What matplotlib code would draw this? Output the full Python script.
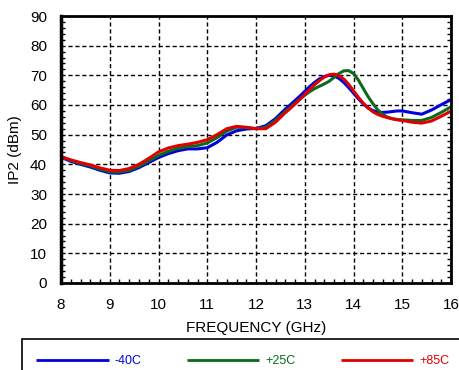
import numpy as np
import matplotlib
matplotlib.use("Agg")
import matplotlib.pyplot as plt
from matplotlib.patches import Rectangle
from matplotlib.ticker import MultipleLocator

plt.rcParams['font.family'] = ['Liberation Sans', 'DejaVu Sans']

# frequency points (GHz)
freq = [8.0, 8.2, 8.4, 8.6, 8.8, 9.0, 9.2, 9.4, 9.6, 9.8,
        10.0, 10.2, 10.4, 10.6, 10.8, 11.0, 11.2, 11.4, 11.6, 11.8,
        12.0, 12.2, 12.4, 12.6, 12.7, 12.8, 12.9, 13.0, 13.1, 13.2,
        13.3, 13.4, 13.5, 13.6, 13.7, 13.8, 13.9, 14.0, 14.1, 14.2,
        14.3, 14.4, 14.5, 14.6, 14.7, 14.8, 14.9, 15.0, 15.2, 15.4,
        15.6, 15.8, 16.0]

ip2_m40 = [42.4, 41.0, 40.0, 39.1, 38.0, 37.1, 37.0, 37.6, 38.9, 40.6,
           42.3, 43.6, 44.6, 45.2, 45.2, 45.6, 47.4, 49.9, 51.3, 51.9,
           52.1, 53.0, 55.4, 58.6, 60.0, 61.5, 63.0, 64.6, 66.2, 67.6,
           68.8, 69.6, 70.0, 69.8, 69.0, 67.6, 65.9, 64.0, 62.1, 60.4,
           59.0, 58.1, 57.6, 57.5, 57.6, 57.8, 58.0, 58.0, 57.4, 56.9,
           58.3, 60.1, 61.8]

ip2_p25 = [42.6, 41.3, 40.3, 39.5, 38.4, 37.5, 37.4, 38.0, 39.4, 41.2,
           43.0, 44.4, 45.4, 46.0, 46.3, 47.2, 49.0, 51.2, 52.5, 52.4,
           52.0, 52.5, 54.8, 57.8, 59.2, 60.6, 62.0, 63.3, 64.5, 65.5,
           66.3, 67.1, 68.0, 69.3, 70.6, 71.5, 71.6, 70.6, 68.4, 65.6,
           62.8, 60.4, 58.3, 56.8, 55.9, 55.4, 55.1, 55.0, 54.8, 54.8,
           55.8, 57.5, 59.4]

ip2_p85 = [42.6, 41.5, 40.6, 39.8, 38.8, 38.0, 37.9, 38.6, 40.0, 42.0,
           44.2, 45.5, 46.3, 46.8, 47.4, 48.3, 50.0, 52.0, 52.8, 52.5,
           52.0, 52.0, 54.2, 57.4, 58.8, 60.3, 61.9, 63.5, 65.2, 66.8,
           68.2, 69.4, 70.2, 70.4, 69.9, 68.8, 67.0, 64.8, 62.6, 60.6,
           59.0, 57.7, 56.8, 56.2, 55.7, 55.3, 55.0, 54.8, 54.2, 53.9,
           54.6, 56.2, 57.9]

labels = ['-40C', '+25C', '+85C']
colors = ['#0000dd', '#0a6b1e', '#e00000']

fig = plt.figure(figsize=(4.59, 3.70), dpi=100)
ax = fig.add_axes([61/459, 87/370, 390/459, 267/370])

lines = []
for y, c, lab in zip([ip2_m40, ip2_p25, ip2_p85], colors, labels):
    ln, = ax.plot(freq, y, color=c, lw=2.2, label=lab, solid_capstyle='butt')
    lines.append(ln)

ax.set_xlim(8, 16)
ax.set_ylim(0, 90)
ax.xaxis.set_major_locator(MultipleLocator(1))
ax.yaxis.set_major_locator(MultipleLocator(10))
ax.xaxis.set_minor_locator(MultipleLocator(0.2))
ax.yaxis.set_minor_locator(MultipleLocator(2))
ax.grid(True, which='major', color='black', linestyle=(0, (3, 2)), lw=1)
ax.tick_params(which='both', direction='in', right=True, top=False,
               labelsize=11, color='black')
ax.tick_params(which='major', length=0)
ax.tick_params(which='minor', length=3, width=1)
ax.tick_params(axis='x', pad=11)
ax.tick_params(axis='y', pad=10)
for s in ax.spines.values():
    s.set_linewidth(2)
ax.spines['left'].set_linewidth(2.5)

ax.set_xlabel('FREQUENCY (GHz)', fontsize=11, labelpad=6)
ax.set_ylabel('IP2 (dBm)', fontsize=11, labelpad=6)

# legend box (open to the right and bottom)
fig.add_artist(Rectangle((22/459, -0.5), 1.2, 0.5 + 31/370,
                         transform=fig.transFigure, fill=False,
                         edgecolor='black', lw=1.2, clip_on=False))
leg = fig.legend(handles=lines, loc='center left', ncol=3,
                 bbox_to_anchor=(25/459, 1 - 361/370), frameon=False,
                 fontsize=9, handlelength=5.8, handletextpad=0.5,
                 columnspacing=3.6, labelcolor='linecolor')
for h in leg.legend_handles:
    h.set_linewidth(2)

fig.savefig('out.png', dpi=100)
